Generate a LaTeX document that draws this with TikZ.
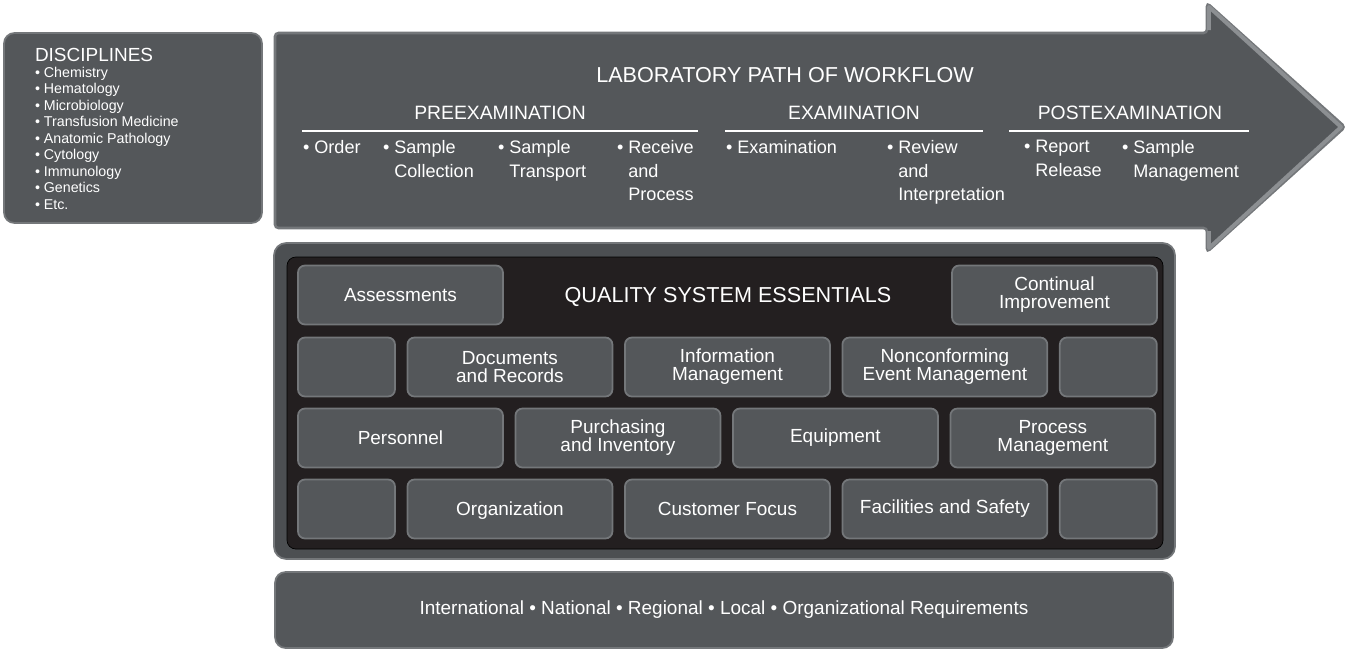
\documentclass[tikz,border=0pt]{standalone}
\usepackage{fontspec}
\setmainfont{Liberation Sans}
\usetikzlibrary{positioning}

\definecolor{boxgray}{HTML}{54575A}
\definecolor{rimgray}{HTML}{74777A}
\definecolor{bevelgray}{HTML}{8C8F92}
\definecolor{framedark}{HTML}{231F20}
\definecolor{framegray}{HTML}{4C4F52}

% bullet, and the same width of blank space for continuation lines
\newcommand{\bdot}{\textbullet\ }
\newcommand{\bgap}{\hphantom{\textbullet\ }}

\begin{document}
\begin{tikzpicture}[
			x=0.02cm, y=-0.02cm,
			node distance=0.25cm,
			every node/.style={text=white, inner sep=0pt, outer sep=0pt},
			panel/.style={fill=boxgray, draw=rimgray, line width=1pt, rounded corners=6pt},
			tile/.style={panel, rounded corners=4pt, minimum width=4.1cm, minimum height=1.18cm,
				align=center, font=\fontsize{10.8}{10.2}\selectfont},
			stub/.style={tile, minimum width=1.94cm},
			heading/.style={font=\fontsize{11}{13}\selectfont},
			stage/.style={anchor=north west, align=left, font=\fontsize{10.3}{13.6}\selectfont},
			]
			\useasboundingbox (0,0) rectangle (1346,650);

			% disciplines
			\draw[panel] (4,33) rectangle (262,223);
			\node[anchor=west, font=\fontsize{10.8}{12}\selectfont] (disc) at (35,55) {DISCIPLINES};
			\node[anchor=north west, align=left, font=\fontsize{8.1}{9.4}\selectfont] (disclist) at (35,67)
				{\bdot Chemistry\\ \bdot Hematology\\ \bdot Microbiology\\ \bdot Transfusion Medicine\\
				 \bdot Anatomic Pathology\\ \bdot Cytology\\ \bdot Immunology\\ \bdot Genetics\\ \bdot Etc.};

			% workflow arrow, with a lighter bevel on the head
			\draw[panel, rounded corners=2pt, line width=1.5pt] (275,33) -- (1207,33) -- (1207,3) -- (1345,127)
				-- (1207,252) -- (1207,228) -- (275,228) -- cycle;
			\draw[bevelgray, line width=2.2pt, line join=round] (1209,30) -- (1209,7) -- (1341,127) -- (1209,248) -- (1209,231);
			\node[font=\fontsize{12.3}{14}\selectfont] (flow) at (785,75) {LABORATORY PATH OF WORKFLOW};
			\node[heading] (pre) at (500,113) {PREEXAMINATION};
			\node[heading] (exam) at (854,113) {EXAMINATION};
			\node[heading] (post) at (1130,113) {POSTEXAMINATION};
			\draw[white, line width=0.9pt] (302,131) -- (698,131);
			\draw[white, line width=0.9pt] (725,131) -- (983,131);
			\draw[white, line width=0.9pt] (1009,131) -- (1249,131);

			\node[stage] (order) at (303,140) {\bdot Order};
			\node[stage] (collect) at (383,140) {\bdot Sample\\\bgap Collection};
			\node[stage] (transport) at (498,140) {\bdot Sample\\\bgap Transport};
			\node[stage] (receive) at (617,140) {\bdot Receive\\\bgap and\\\bgap Process};
			\node[stage] (examine) at (726,140) {\bdot Examination};
			\node[stage] (review) at (887,140) {\bdot Review\\\bgap and\\\bgap Interpretation};
			\node[stage] (report) at (1024,140) {\bdot Report\\\bgap Release};
			\node[stage] (manage) at (1122,140) {\bdot Sample\\\bgap Management};

			% quality system essentials
			\draw[fill=framegray, draw=rimgray, line width=1pt, rounded corners=7pt] (274,243) rectangle (1175,559);
			\draw[fill=framedark, rounded corners=5pt] (287,257) rectangle (1163,549);
			\node[font=\fontsize{12.3}{14}\selectfont] (qse) at (728,297) {QUALITY SYSTEM ESSENTIALS};

			\node[tile, anchor=west] (assess) at (298,295) {Assessments};
			\node[tile, anchor=east] (improve) at (1157,295) {Continual\\Improvement};

			\node[stub, anchor=west] (rowtwoa) at (298,367) {};
			\node[tile, right=of rowtwoa] (records) {Documents\\and Records};
			\node[tile, right=of records] (info) {Information\\Management};
			\node[tile, right=of info] (events) {Nonconforming\\Event Management};
			\node[stub, right=of events] (rowtwob) {};

			\node[tile, anchor=west] (personnel) at (298,438) {Personnel};
			\node[tile, right=of personnel] (purchasing) {Purchasing\\and Inventory};
			\node[tile, right=of purchasing] (equipment) {Equipment};
			\node[tile, right=of equipment] (process) {Process\\Management};

			\node[stub, anchor=west] (rowfoura) at (298,509) {};
			\node[tile, right=of rowfoura, text height=1.5ex, text depth=0pt] (organization) {Organization};
			\node[tile, right=of organization] (customer) {Customer Focus};
			\node[tile, right=of customer] (facilities) {Facilities and Safety};
			\node[stub, right=of facilities] (rowfourb) {};

			% requirements bar
			\node[panel, minimum width=17.96cm, minimum height=1.52cm, font=\fontsize{10.8}{12}\selectfont]
				(reqs) at (724,610) {International \textbullet{} National \textbullet{} Regional \textbullet{}
				Local \textbullet{} Organizational Requirements};
		\end{tikzpicture}
\end{document}
